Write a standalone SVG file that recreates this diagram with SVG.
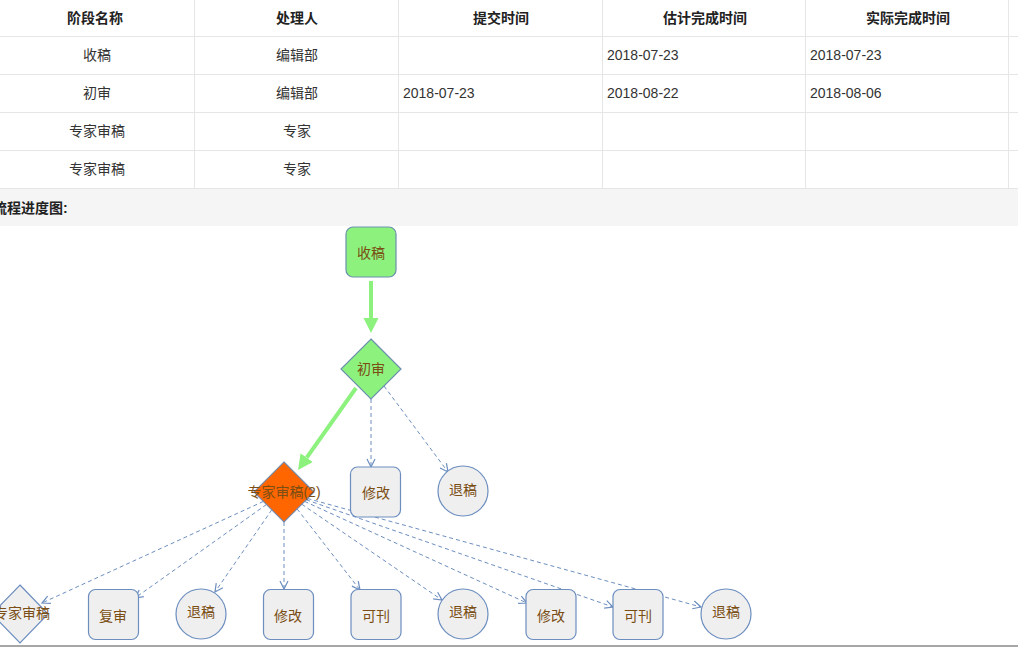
<svg xmlns="http://www.w3.org/2000/svg" width="1018" height="655" viewBox="0 0 1018 655">
<style>
text{font-family:"Liberation Sans","Noto Sans CJK SC",sans-serif;font-size:14px}
.th{font-weight:bold;fill:#222;text-anchor:middle;dominant-baseline:central}
.td{fill:#333;dominant-baseline:central}
.tc{text-anchor:middle}
.grid{stroke:#e6e6e6;stroke-width:1;fill:none}
.nt{fill:#7a4e14;text-anchor:middle;dominant-baseline:central}
.green{fill:#8cf27d;stroke:#6b8fae;stroke-width:1.2}
.grey{fill:#efefef;stroke:#6c8ebf;stroke-width:1.2}
.orange{fill:#ff6600;stroke:#7a8aa8;stroke-width:1.2}
.dash{stroke:#6c8ebf;stroke-width:1;stroke-dasharray:4 3;fill:none;marker-end:url(#open)}
.gline{stroke:#8cf27d;stroke-width:4;fill:none;marker-end:url(#garrow)}
</style>
<defs>
<marker id="open" markerUnits="userSpaceOnUse" markerWidth="12" markerHeight="12" refX="9" refY="5" orient="auto" viewBox="0 0 12 10">
<path d="M1,1 L9,5 L1,9" fill="none" stroke="#6c8ebf" stroke-width="1.2"/>
</marker>
<marker id="garrow" markerUnits="userSpaceOnUse" markerWidth="16" markerHeight="16" refX="0" refY="8" orient="auto" viewBox="0 0 16 16">
<path d="M0,0.5 L15,8 L0,15.5 Z" fill="#8cf27d"/>
</marker>
</defs>
<rect x="0" y="0" width="1018" height="655" fill="#ffffff"/>
<g id="table">
<rect x="0" y="188.5" width="1018" height="37.5" fill="#f5f5f5"/>
<path class="grid" d="M0,36.5H1018M0,74.5H1018M0,112.5H1018M0,150.5H1018M0,188.5H1018M194.5,0V188.5M398.5,0V188.5M602.5,0V188.5M805.5,0V188.5M1008.5,0V188.5"/>
<text class="th" x="95" y="18">阶段名称</text>
<text class="th" x="297" y="18">处理人</text>
<text class="th" x="501" y="18">提交时间</text>
<text class="th" x="705" y="18">估计完成时间</text>
<text class="th" x="908" y="18">实际完成时间</text>
<text class="td tc" x="97" y="55">收稿</text>
<text class="td tc" x="297" y="55">编辑部</text>
<text class="td" x="607" y="55">2018-07-23</text>
<text class="td" x="810" y="55">2018-07-23</text>
<text class="td tc" x="97" y="93">初审</text>
<text class="td tc" x="297" y="93">编辑部</text>
<text class="td" x="403" y="93">2018-07-23</text>
<text class="td" x="607" y="93">2018-08-22</text>
<text class="td" x="810" y="93">2018-08-06</text>
<text class="td tc" x="97" y="131">专家审稿</text>
<text class="td tc" x="297" y="131">专家</text>
<text class="td tc" x="97" y="169">专家审稿</text>
<text class="td tc" x="297" y="169">专家</text>
<text x="-7" y="208" style="font-weight:bold;fill:#222;dominant-baseline:central">流程进度图:</text>
</g>
<line x1="0" y1="646" x2="1018" y2="646" stroke="#8a8a8a" stroke-width="1.5"/>
<g id="connectors">
<path class="gline" d="M371,281 L371,318"/>
<path class="gline" d="M356,388 L306.7,457.7"/>
<path class="dash" d="M371,399 L371,467"/>
<path class="dash" d="M384,386 L448,472"/>
<path class="dash" d="M263.4,501.4 L42,603"/>
<path class="dash" d="M266.5,504.5 L135,598"/>
<path class="dash" d="M271.8,509.8 L215,592"/>
<path class="dash" d="M284,522 L284,589"/>
<path class="dash" d="M297.1,508.9 L360,590"/>
<path class="dash" d="M301.8,504.2 L442,600"/>
<path class="dash" d="M304.6,501.4 L527,603"/>
<path class="dash" d="M306.2,499.8 L613,607"/>
<path class="dash" d="M307.5,498.5 L701,607"/>
</g>
<g id="n-shougao"><rect class="green" x="346" y="227" width="50" height="50" rx="7"/><text class="nt" x="371" y="253">收稿</text></g>
<g id="n-chushen"><path class="green" d="M371,339 L401,369 L371,399 L341,369 Z"/><text class="nt" x="371" y="369">初审</text></g>
<g id="n-zhuanjia2"><path class="orange" d="M284,462 L314,492 L284,522 L254,492 Z"/><text class="nt" x="284" y="492">专家审稿(2)</text></g>
<g id="n-xiugai1"><rect class="grey" x="350.5" y="467" width="50" height="50" rx="7"/><text class="nt" x="376" y="493">修改</text></g>
<g id="n-tuigao1"><circle class="grey" cx="463" cy="491" r="25"/><text class="nt" x="463" y="490">退稿</text></g>
<g id="n-zhuanjia"><path class="grey" d="M20,585 L48,614 L20,643 L-8,614 Z"/><text class="nt" x="22" y="613">专家审稿</text></g>
<g id="n-fushen"><rect class="grey" x="88.5" y="589.5" width="50" height="50" rx="7"/><text class="nt" x="113" y="616">复审</text></g>
<g id="n-tuigao2"><circle class="grey" cx="201" cy="614" r="25"/><text class="nt" x="201" y="612">退稿</text></g>
<g id="n-xiugai2"><rect class="grey" x="263.5" y="589.5" width="50" height="50" rx="7"/><text class="nt" x="288" y="616">修改</text></g>
<g id="n-kekan1"><rect class="grey" x="351" y="589.5" width="50" height="50" rx="7"/><text class="nt" x="376" y="616">可刊</text></g>
<g id="n-tuigao3"><circle class="grey" cx="463" cy="614" r="25"/><text class="nt" x="463" y="612">退稿</text></g>
<g id="n-xiugai3"><rect class="grey" x="526" y="589.5" width="50" height="50" rx="7"/><text class="nt" x="551" y="616">修改</text></g>
<g id="n-kekan2"><rect class="grey" x="613" y="589.5" width="50" height="50" rx="7"/><text class="nt" x="638" y="616">可刊</text></g>
<g id="n-tuigao4"><circle class="grey" cx="726" cy="614" r="25"/><text class="nt" x="726" y="612">退稿</text></g>
</svg>
